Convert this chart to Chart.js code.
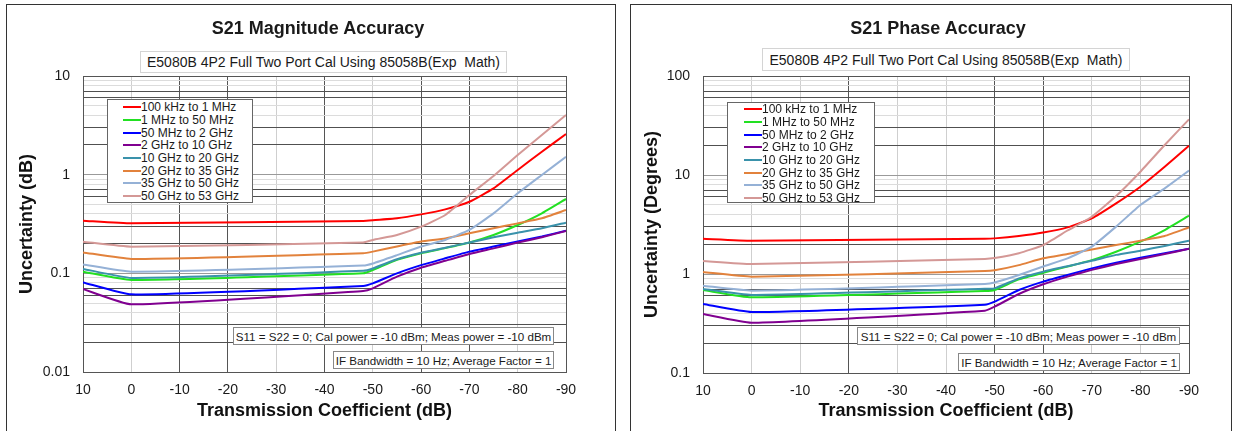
<!DOCTYPE html>
<html lang="en">
<head>
<meta charset="UTF-8">
<title>S21 Magnitude and Phase Accuracy</title>
<script src="https://cdn.jsdelivr.net/npm/chart.js@4"></script>
<style>
  body { margin: 0; width: 1234px; height: 431px; overflow: hidden; background: #fff; position: relative;
         font-family: "Liberation Sans", Arial, sans-serif; color: #1a1a1a; }
  .panel { position: absolute; top: 4px; height: 450px; border: 1px solid #333; box-sizing: border-box; }
  .wrap { position: absolute; top: 0; width: 617px; height: 431px; }
  .title { position: absolute; font-size: 18px; font-weight: bold; transform: translate(-50%, -50%); white-space: nowrap; }
  .box { position: absolute; box-sizing: border-box; background: #fff; white-space: pre;
         display: flex; align-items: center; justify-content: center; }
  .subtitle { font-size: 14px; border: 1px solid #d4d4d4; }
  .note { font-size: 11.6px; border: 1px solid #888; }
  .legend { position: absolute; box-sizing: border-box; background: #fff; border: 1px solid #666; }
  .legend .row { height: 12.7px; display: flex; align-items: center; font-size: 12px; white-space: nowrap; }
  .legend .swatch { display: inline-block; width: 18px; height: 2px; }
</style>
</head>
<body>
<div class="panel" style="left:6px; width:610px;"></div>
<div class="panel" style="left:630px; width:602px;"></div>

<div class="wrap" style="left:0;"><canvas id="magChart" width="617" height="431"></canvas></div>
<div class="wrap" style="left:617px;"><canvas id="phaseChart" width="617" height="431"></canvas></div>

<div class="title" style="left:318px; top:28px;">S21 Magnitude Accuracy</div>
<div class="title" style="left:938px; top:28px;">S21 Phase Accuracy</div>

<div class="box subtitle" style="left:140px; top:51px; width:367px; height:22px;">E5080B 4P2 Full Two Port Cal Using 85058B(Exp  Math)</div>
<div class="box subtitle" style="left:762px; top:48px; width:368px; height:23px;">E5080B 4P2 Full Two Port Cal Using 85058B(Exp  Math)</div>

<div class="legend" id="magLegend" style="left:107px; top:99px; width:146px; height:104px; padding:1px 0 0 15px;"></div>
<div class="legend" id="phaseLegend" style="left:727px; top:102px; width:148px; height:101px; padding:0 0 0 16px;"></div>

<div class="box note" style="left:233px; top:327px; width:321px; height:18px;">S11 = S22 = 0; Cal power = -10 dBm; Meas power = -10 dBm</div>
<div class="box note" style="left:333px; top:351px; width:221px; height:18px;">IF Bandwidth = 10 Hz; Average Factor = 1</div>
<div class="box note" style="left:857px; top:327px; width:323px; height:18px;">S11 = S22 = 0; Cal power = -10 dBm; Meas power = -10 dBm</div>
<div class="box note" style="left:958px; top:353px; width:222px; height:18px;">IF Bandwidth = 10 Hz; Average Factor = 1</div>

<script>
// transmission coefficient (dB), shared by every curve
const xValues = [10, 0, -48, -50, -55, -60, -65, -70, -75, -80, -85, -90];

const seriesNames = ['100 kHz to 1 MHz', '1 MHz to 50 MHz', '50 MHz to 2 GHz', '2 GHz to 10 GHz',
                     '10 GHz to 20 GHz', '20 GHz to 35 GHz', '35 GHz to 50 GHz', '50 GHz to 53 GHz'];
const seriesColors = ['#ff0000', '#22e022', '#0000ff', '#800090', '#3a92ab', '#e2823c', '#95b1d6', '#d49896'];

// S21 magnitude uncertainty (dB)
const mag100k = [0.342, 0.321, 0.340, 0.345, 0.361, 0.396, 0.445, 0.532, 0.727, 1.115, 1.71, 2.58];
const mag1M   = [0.104, 0.0857, 0.100, 0.108, 0.137, 0.160, 0.180, 0.205, 0.245, 0.309, 0.406, 0.567];
const mag50M  = [0.081, 0.0612, 0.0745, 0.0792, 0.100, 0.121, 0.142, 0.166, 0.187, 0.210, 0.236, 0.271];
const mag2G   = [0.0693, 0.0485, 0.0662, 0.0705, 0.0925, 0.114, 0.134, 0.157, 0.179, 0.205, 0.232, 0.269];
const mag10G  = [0.111, 0.0898, 0.106, 0.112, 0.139, 0.162, 0.182, 0.205, 0.232, 0.258, 0.286, 0.326];
const mag20G  = [0.163, 0.140, 0.160, 0.166, 0.187, 0.210, 0.226, 0.255, 0.286, 0.321, 0.361, 0.438];
const mag35G  = [0.123, 0.104, 0.120, 0.126, 0.153, 0.187, 0.218, 0.275, 0.405, 0.647, 0.993, 1.52];
const mag50G  = [0.209, 0.186, 0.205, 0.218, 0.245, 0.297, 0.390, 0.622, 0.969, 1.58, 2.52, 4.03];

// S21 phase uncertainty (degrees)
const ph100k = [2.27, 2.17, 2.27, 2.29, 2.42, 2.62, 2.96, 3.65, 5.17, 7.62, 12.1, 19.8];
const ph1M   = [0.689, 0.581, 0.673, 0.689, 0.883, 1.03, 1.19, 1.38, 1.68, 2.12, 2.78, 3.88];
const ph50M  = [0.498, 0.413, 0.490, 0.526, 0.689, 0.837, 0.977, 1.14, 1.30, 1.46, 1.62, 1.80];
const ph2G   = [0.394, 0.322, 0.426, 0.468, 0.628, 0.787, 0.940, 1.10, 1.26, 1.42, 1.59, 1.80];
const ph10G  = [0.706, 0.614, 0.711, 0.716, 0.904, 1.056, 1.20, 1.36, 1.56, 1.72, 1.92, 2.17];
const ph20G  = [1.047, 0.940, 1.07, 1.09, 1.23, 1.44, 1.59, 1.77, 1.96, 2.17, 2.42, 2.96];
const ph35G  = [0.762, 0.679, 0.793, 0.820, 0.977, 1.19, 1.44, 1.89, 3.01, 4.98, 7.33, 11.1];
const ph50G  = [1.35, 1.26, 1.42, 1.45, 1.62, 1.96, 2.75, 3.79, 6.13, 10.8, 20.1, 36.5];

// y axis gridline values (log, 1..9 per decade) and the labelled ones
const magYTicks = [0.01, 0.02, 0.03, 0.04, 0.05, 0.06, 0.07, 0.08, 0.09,
                   0.1, 0.2, 0.3, 0.4, 0.5, 0.6, 0.7, 0.8, 0.9,
                   1, 2, 3, 4, 5, 6, 7, 8, 9, 10];
const magYLabels = [0.01, 0.1, 1, 10];
const phaseYTicks = [0.1, 0.2, 0.3, 0.4, 0.5, 0.6, 0.7, 0.8, 0.9,
                     1, 2, 3, 4, 5, 6, 7, 8, 9,
                     10, 20, 30, 40, 50, 60, 70, 80, 90, 100];
const phaseYLabels = [0.1, 1, 10, 100];

// which vertical gridlines are drawn dark in each chart
const magDarkX = [10, -10, -20, -40, -60, -70, -90];
const phaseDarkX = [10, -20, -50, -60, -90];

const significand = v => Math.round(v / Math.pow(10, Math.floor(Math.log10(v) + 1e-9)));

function yGridColor(ctx, top) {
  const v = ctx.tick.value;
  if (v === top) return '#555';
  const s = significand(v);
  if (s === 1) return '#9a9a9a';
  if ([2, 3, 6, 7].includes(s)) return '#505050';
  return '#dcdcdc';
}

function makeChart(id, seriesData, opts) {
  return new Chart(document.getElementById(id), {
    type: 'line',
    data: {
      datasets: seriesData.map((vals, i) => ({
        label: seriesNames[i],
        data: xValues.map((x, k) => ({ x, y: vals[k] })),
        borderColor: seriesColors[i],
        backgroundColor: seriesColors[i],
        borderWidth: 2,
        pointRadius: 0,
        tension: 0.15
      })).reverse()
    },
    options: {
      responsive: false,
      animation: false,
      devicePixelRatio: 1,
      layout: { padding: { top: 76, right: opts.padRight, left: 0, bottom: 0 } },
      plugins: { legend: { display: false }, tooltip: { enabled: false } },
      scales: {
        x: {
          type: 'linear', reverse: true, min: -90, max: 10,
          afterFit: s => { s.height = opts.xHeight; },
          ticks: { stepSize: 10, padding: 10, maxRotation: 0, color: '#1a1a1a',
                   font: { family: 'Liberation Sans', size: 14 } },
          grid: { drawTicks: false, lineWidth: 1,
                  color: ctx => opts.darkX.includes(ctx.tick.value) ? '#555' : '#cfcfcf' },
          border: { color: '#555' },
          title: { display: true, text: 'Transmission Coefficient (dB)', color: '#111',
                   font: { family: 'Liberation Sans', size: 18, weight: 'bold' },
                   padding: { top: 0, bottom: 9 } }
        },
        y: {
          type: 'logarithmic', min: opts.yTicks[0], max: opts.yTicks[opts.yTicks.length - 1],
          afterBuildTicks: s => { s.ticks = opts.yTicks.map(v => ({ value: v })); },
          afterFit: s => { s.width = opts.yWidth; },
          ticks: { autoSkip: false, padding: 13, color: '#1a1a1a',
                   font: { family: 'Liberation Sans', size: 14 },
                   callback: v => opts.yLabels.includes(v) ? String(v) : '' },
          grid: { drawTicks: false, lineWidth: 1,
                  color: ctx => yGridColor(ctx, opts.yTicks[opts.yTicks.length - 1]) },
          border: { color: '#555' },
          title: { display: true, text: opts.yTitle, color: '#111',
                   font: { family: 'Liberation Sans', size: 18, weight: 'bold' },
                   padding: { top: opts.yTitlePad, bottom: 0 } }
        }
      }
    }
  });
}

makeChart('magChart', [mag100k, mag1M, mag50M, mag2G, mag10G, mag20G, mag35G, mag50G], {
  padRight: 51, xHeight: 59, yWidth: 83, yTitlePad: 16,
  yTicks: magYTicks, yLabels: magYLabels, darkX: magDarkX, yTitle: 'Uncertainty (dB)'
});

makeChart('phaseChart', [ph100k, ph1M, ph50M, ph2G, ph10G, ph20G, ph35G, ph50G], {
  padRight: 45, xHeight: 58, yWidth: 86, yTitlePad: 24,
  yTicks: phaseYTicks, yLabels: phaseYLabels, darkX: phaseDarkX, yTitle: 'Uncertainty (Degrees)'
});

// legends drawn as html boxes inside each plot
function fillLegend(id) {
  const box = document.getElementById(id);
  seriesNames.forEach((name, i) => {
    const row = document.createElement('div');
    row.className = 'row';
    row.innerHTML = `<span class="swatch" style="background:${seriesColors[i]}"></span><span>${name}</span>`;
    box.appendChild(row);
  });
}
fillLegend('magLegend');
fillLegend('phaseLegend');
</script>
</body>
</html>
